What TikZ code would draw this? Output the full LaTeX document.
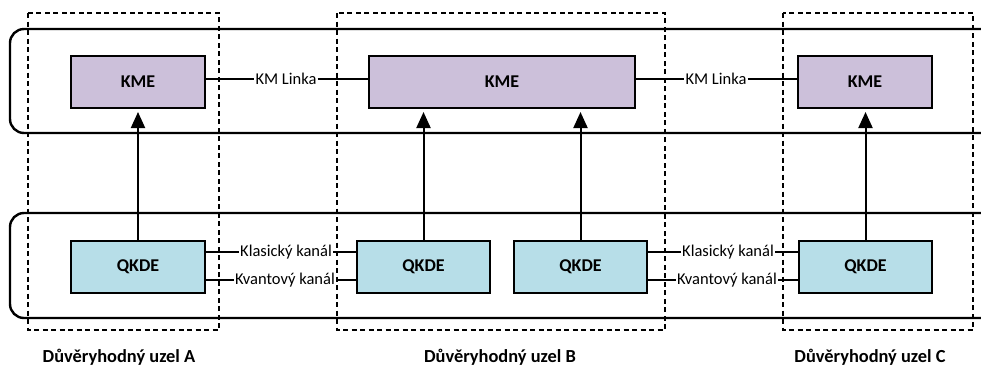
\documentclass[tikz,border=0pt]{standalone}
\usepackage{fontspec}
\setmainfont{Carlito}
\usetikzlibrary{arrows.meta}
\definecolor{kmefill}{RGB}{204,192,218}
\definecolor{qkdefill}{RGB}{183,222,232}
\tikzset{
  band/.style={line width=2.4pt, rounded corners=14pt},
  trust/.style={line width=1.3pt, dash pattern=on 5pt off 3.5pt},
  kmebox/.style={draw, line width=2pt, fill=kmefill, font=\bfseries\fontsize{18}{20}\selectfont, anchor=north west, inner sep=0pt},
  qkdebox/.style={draw, line width=2pt, fill=qkdefill, font=\bfseries\fontsize{18}{20}\selectfont, anchor=north west, inner sep=0pt},
  link/.style={line width=1.8pt},
  lbl/.style={fill=white, inner sep=1pt, font=\fontsize{16.5}{18}\selectfont},
  up/.style={line width=2pt, shorten >=3pt, -{Triangle[length=16pt,width=14pt]}},
  nodelbl/.style={font=\bfseries\fontsize{18.4}{20}\selectfont}
}
\begin{document}
\begin{tikzpicture}[x=1pt,y=-1pt]
\useasboundingbox (0,0) rectangle (981,365);
\clip (0,0) rectangle (981,365);
% bands
\draw[band] (995,29) -- (10,29) -- (10,133) -- (995,133);
\draw[band] (995,213) -- (10,213) -- (10,318) -- (995,318);
% boxes
\node[kmebox, minimum width=134pt, minimum height=52pt] (kmeA) at (70,55) {KME};
\node[kmebox, minimum width=266pt, minimum height=52pt] (kmeB) at (368,55) {KME};
\node[kmebox, minimum width=134pt, minimum height=52pt] (kmeC) at (797,55) {KME};
\node[qkdebox, minimum width=134pt, minimum height=52pt] (qA) at (70,240) {QKDE};
\node[qkdebox, minimum width=133pt, minimum height=52pt] (qB1) at (356,240) {QKDE};
\node[qkdebox, minimum width=133pt, minimum height=52pt] (qB2) at (513,240) {QKDE};
\node[qkdebox, minimum width=133pt, minimum height=52pt] (qC) at (798,240) {QKDE};
% arrows
\draw[up] (qA.north) -- (kmeA.south);
\draw[up] (qC.north) -- (qC.north |- kmeC.south);
\draw[up] (qB1.north) -- (qB1.north |- kmeB.south);
\draw[up] (qB2.north) -- (qB2.north |- kmeB.south);
% links
\node[lbl] (km1) at (286,79) {KM Linka};
\node[lbl] (km2) at (716,79) {KM Linka};
\draw[link] (kmeA.east |- km1) -- (km1.west);
\draw[link] (km1.east) -- (kmeB.west |- km1);
\draw[link] (kmeB.east |- km2) -- (km2.west);
\draw[link] (km2.east) -- (kmeC.west |- km2);
\node[lbl] (kl1) at (286,252) {Klasický kanál};
\node[lbl] (kv1) at (285,280) {Kvantový kanál};
\node[lbl] (kl2) at (728,252) {Klasický kanál};
\node[lbl] (kv2) at (727,280) {Kvantový kanál};
\draw[link] (qA.east |- kl1) -- (kl1.west);
\draw[link] (kl1.east) -- (qB1.west |- kl1);
\draw[link] (qA.east |- kv1) -- (kv1.west);
\draw[link] (kv1.east) -- (qB1.west |- kv1);
\draw[link] (qB2.east |- kl2) -- (kl2.west);
\draw[link] (kl2.east) -- (qC.west |- kl2);
\draw[link] (qB2.east |- kv2) -- (kv2.west);
\draw[link] (kv2.east) -- (qC.west |- kv2);
% trusted node boxes
\draw[trust] (28,13) rectangle (219,330);
\draw[trust] (337,13) rectangle (665,330);
\draw[trust] (783,13) rectangle (973,330);
\node[nodelbl] (tA) at (119,357) {Důvěryhodný uzel A};
\node[nodelbl] (tB) at (500,357) {Důvěryhodný uzel B};
\node[nodelbl] (tC) at (870,357) {Důvěryhodný uzel C};
\end{tikzpicture}
\end{document}
